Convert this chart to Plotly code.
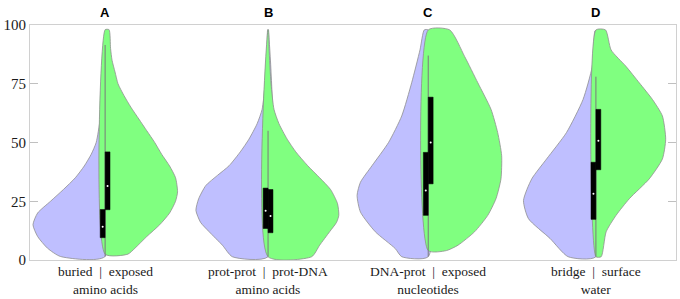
import plotly.graph_objects as go

# ---------------- data ----------------
titles = ["A", "B", "C", "D"]
label_line1 = ["buried  |  exposed", "prot-prot  |  prot-DNA", "DNA-prot  |  exposed", "bridge  |  surface"]
label_line2 = ["amino acids", "amino acids", "nucleotides", "water"]

# left halves (purple): value levels and density (half-width, arbitrary units)
A_left_y = [1.5, 5, 10, 15, 20, 25, 30, 35, 40, 45, 50, 60, 75, 85, 92]
A_left_d = [45, 58, 68, 72.7, 68, 55, 42, 30, 21, 14, 9, 5, 2, 1, 0.4]
A_right_y = [2.5, 5, 10, 15, 20, 25, 29, 35, 40, 45, 50, 55, 60, 65, 70, 75, 80, 85, 90, 98]
A_right_d = [23, 30, 42, 55, 65, 71, 73, 71, 65, 57, 50, 42, 34, 26, 19, 13, 10, 7, 5.5, 4]

B_left_y = [1.4, 6.3, 12, 16, 21.1, 26, 31.7, 36, 40.1, 46, 51.4, 58, 64.1, 75, 90, 98]
B_left_d = [36, 46, 59.3, 68, 72.7, 70, 62.7, 51, 39.3, 28, 19.3, 11, 6, 3, 1, 0.4]
B_right_y = [1.4, 6.3, 12, 16, 19, 24, 30, 35, 40.1, 46, 51.4, 58, 64.1, 75, 90, 98]
B_right_d = [44, 52, 62, 69, 71.3, 70, 63, 52, 40, 28, 19.3, 11, 6, 3, 1, 0.4]

C_left_y = [1.4, 4.9, 12, 20.4, 27.5, 33.1, 40.1, 50, 61.3, 75.4, 89.4, 97.9]
C_left_d = [26.7, 33.3, 53.3, 68.3, 71.7, 68.3, 56.7, 40, 26.7, 16.7, 8.3, 4]
C_right_y = [4, 6.3, 12, 19, 26.1, 34.5, 44.4, 54.2, 64.1, 75.4, 86.6, 97.9]
C_right_d = [18.3, 30, 46.7, 60, 68.3, 73.3, 74, 70, 63.3, 50, 36.7, 21.7]

D_left_y = [1.4, 9.2, 17.6, 25.3, 34.5, 43, 54.2, 68.3, 82.4, 97.5]
D_left_d = [28, 46.3, 68, 73, 64.7, 49.7, 29.7, 13, 3.7, 1]
D_right_y = [1.4, 12, 19, 26.1, 34.5, 43, 51.4, 61.3, 68.3, 75.4, 82.4, 89.4, 97.9]
D_right_d = [5.3, 10.3, 20.3, 33.7, 53.7, 67, 70.3, 67, 57, 43.7, 30.3, 15.3, 9.7]

# box statistics
left_q1 = [9.5, 13.4, 19.0, 17.3]
left_med = [14.1, 21.0, 29.6, 28.2]
left_q3 = [21.5, 30.6, 45.8, 41.6]
right_q1 = [21.4, 11.6, 32.4, 38.4]
right_med = [31.5, 18.7, 50.0, 50.7]
right_q3 = [46.0, 30.0, 69.3, 64.1]
whisker_top = [91.5, 55.0, 87.0, 78.0]

# ---------------- layout constants ----------------
positions = [1.0, 1.996, 2.975, 4.0]
DENS_SCALE = 1 / 164.87        # density -> x units
BOX_W = 0.03
PURPLE = "#BFBFFF"
GREEN = "#80FF80"
EDGE = "#8f8f8f"
SERIF = "Liberation Serif, Times New Roman, serif"

lefts = [(A_left_y, A_left_d), (B_left_y, B_left_d), (C_left_y, C_left_d), (D_left_y, D_left_d)]
rights = [(A_right_y, A_right_d), (B_right_y, B_right_d), (C_right_y, C_right_d), (D_right_y, D_right_d)]

fig = go.Figure()


def half(xc, ys, ds, side, color):
    sgn = -1 if side == "left" else 1
    xs = [xc + sgn * d * DENS_SCALE for d in ds]
    px = [xc] + xs + [xc, xc]
    py = [ys[0]] + ys + [ys[-1], ys[0]]
    fig.add_trace(go.Scatter(x=px, y=py, fill="toself", fillcolor=color, mode="lines",
                             line=dict(color=EDGE, width=0.8, shape="spline", smoothing=0.6),
                             hoverinfo="skip", showlegend=False))


for i, xc in enumerate(positions):
    half(xc, *lefts[i], "left", PURPLE)
    half(xc, *rights[i], "right", GREEN)

# centre / whisker line
for i, xc in enumerate(positions):
    fig.add_trace(go.Scatter(x=[xc, xc], y=[1.5, whisker_top[i]],
                             mode="lines", line=dict(color="#7a7a7a", width=1),
                             hoverinfo="skip", showlegend=False))

# boxes
for i, xc in enumerate(positions):
    for q1, q3, sgn in ((left_q1[i], left_q3[i], -1), (right_q1[i], right_q3[i], 1)):
        x0, x1 = xc, xc + sgn * BOX_W
        fig.add_trace(go.Scatter(x=[x0, x1, x1, x0, x0], y=[q1, q1, q3, q3, q1],
                                 fill="toself", fillcolor="black", mode="lines",
                                 line=dict(color="black", width=0.5),
                                 hoverinfo="skip", showlegend=False))

# medians
fig.add_trace(go.Scatter(x=[p - BOX_W / 2 for p in positions] + [p + BOX_W / 2 for p in positions],
                         y=left_med + right_med, mode="markers",
                         marker=dict(color="white", size=2),
                         hoverinfo="skip", showlegend=False))

# titles and two-line category labels
for i, xc in enumerate(positions):
    fig.add_annotation(x=xc, y=1, xref="x", yref="paper", text="<b>%s</b>" % titles[i],
                       showarrow=False, yanchor="middle", yshift=13,
                       font=dict(family="Liberation Sans, Arial", size=13, color="black"))
    fig.add_annotation(x=xc, y=0, xref="x", yref="paper",
                       text=label_line1[i] + "<br>" + label_line2[i],
                       showarrow=False, yanchor="middle", yshift=-20, borderpad=0,
                       font=dict(family=SERIF, size=13.5, color="#1a1a1a"))

fig.update_layout(
    width=680, height=299,
    margin=dict(l=26, r=3, t=25, b=39),
    paper_bgcolor="white", plot_bgcolor="white",
    showlegend=False,
    xaxis=dict(range=[0.5409, 4.4895], tickvals=positions, showticklabels=False,
               showgrid=False, zeroline=False, showline=True, mirror=True,
               linecolor="#d0d0d0", linewidth=1, ticks=""),
    yaxis=dict(range=[0, 100], tickvals=[0, 25, 50, 75, 100],
               showgrid=False, zeroline=False, showline=True, mirror="ticks",
               linecolor="#d0d0d0", linewidth=1, ticks="inside", ticklen=8,
               tickcolor="#c0c0c0",
               tickfont=dict(family=SERIF, size=15, color="#1a1a1a")),
)

fig.write_html("out.html", config={"displayModeBar": False},
               post_script="document.body.style.margin='0';")
